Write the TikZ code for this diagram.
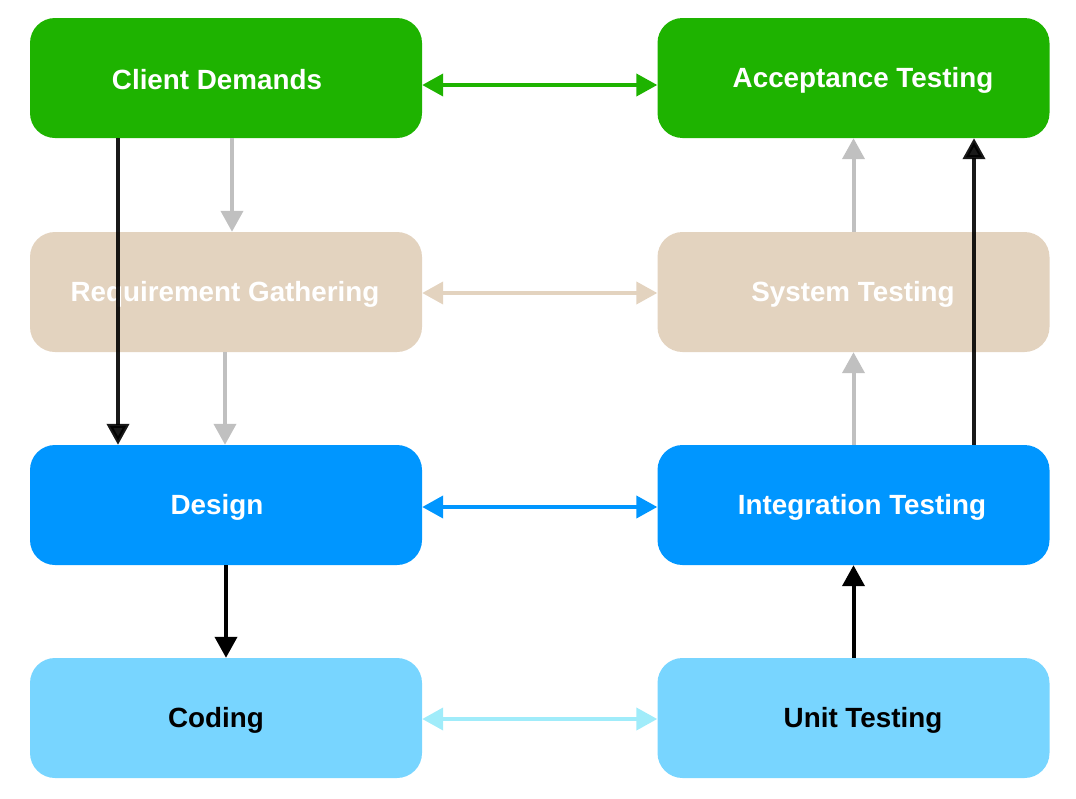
\documentclass[tikz,border=0pt]{standalone}
\usepackage{fontspec}
\setmainfont{Liberation Sans}
\usetikzlibrary{arrows.meta}
\definecolor{cgreen}{RGB}{30,179,0}
\definecolor{cbeige}{RGB}{227,211,191}
\definecolor{cblue}{RGB}{0,150,255}
\definecolor{clight}{RGB}{120,213,255}
\definecolor{clightarr}{RGB}{160,236,250}
\definecolor{cgray}{RGB}{192,192,192}
\begin{document}
\begin{tikzpicture}[x=1pt,y=-1pt,
  box/.style={draw=none,rounded corners=25pt,minimum width=392pt,minimum height=120pt,inner sep=0pt},
  lbl/.style={font=\fontsize{27.8}{32}\selectfont\bfseries,inner sep=0pt,anchor=center},
  conn/.style={line width=4pt,-{Triangle[length=21pt,width=22pt]}},
  dconn/.style={line width=4pt,{Triangle[length=21pt,width=22pt]}-{Triangle[length=21pt,width=22pt]}}]
\useasboundingbox (0,0) rectangle (1076,798);
% boxes
\node[box,fill=cgreen] (cd) at (226,78) {};
\node[box,fill=cgreen] (at) at (853.5,78) {};
\node[box,fill=cbeige] (rg) at (226,292) {};
\node[box,fill=cbeige] (st) at (853.5,292) {};
\node[box,fill=cblue] (de) at (226,505) {};
\node[box,fill=cblue] (it) at (853.5,505) {};
\node[box,fill=clight] (co) at (226,718) {};
\node[box,fill=clight] (ut) at (853.5,718) {};
% labels
\node[lbl,text=white] at (217,80) {Client Demands};
\node[lbl,text=white] at (863,80) {Acceptance Testing};
\node[lbl,text=white] at (225,294) {Requirement Gathering};
\node[lbl,text=white] at (853,294) {System Testing};
\node[lbl,text=white] at (217,507) {Design};
\node[lbl,text=white] at (862,507) {Integration Testing};
\node[lbl,text=black] at (216,720) {Coding};
\node[lbl,text=black] at (863,720) {Unit Testing};
% horizontal connectors
\draw[dconn,cgreen] ([yshift=-7pt]cd.east) -- ([yshift=-7pt]at.west);
\draw[dconn,cbeige] ([yshift=-1pt]rg.east) -- ([yshift=-1pt]st.west);
\draw[dconn,cblue] ([yshift=-2pt]de.east) -- ([yshift=-2pt]it.west);
\draw[dconn,clightarr] ([yshift=-1pt]co.east) -- ([yshift=-1pt]ut.west);
% gray connectors
\draw[conn,cgray] ([xshift=6pt]cd.south) -- ([xshift=6pt]rg.north);
\draw[conn,cgray] ([xshift=-1pt]rg.south) -- ([xshift=-1pt]de.north);
\draw[conn,cgray] (it.north) -- (st.south);
\draw[conn,cgray] (st.north) -- (at.south);
% black connectors
\draw[conn,black,opacity=0.9] ([xshift=-108pt]cd.south) -- ([xshift=-108pt]de.north);
\draw[conn,black] (de.south) -- (co.north);
\draw[conn,black,opacity=0.9] ([xshift=120.5pt]it.north) -- ([xshift=120.5pt]at.south);
\draw[conn,black] (ut.north) -- (it.south);
\end{tikzpicture}
\end{document}
